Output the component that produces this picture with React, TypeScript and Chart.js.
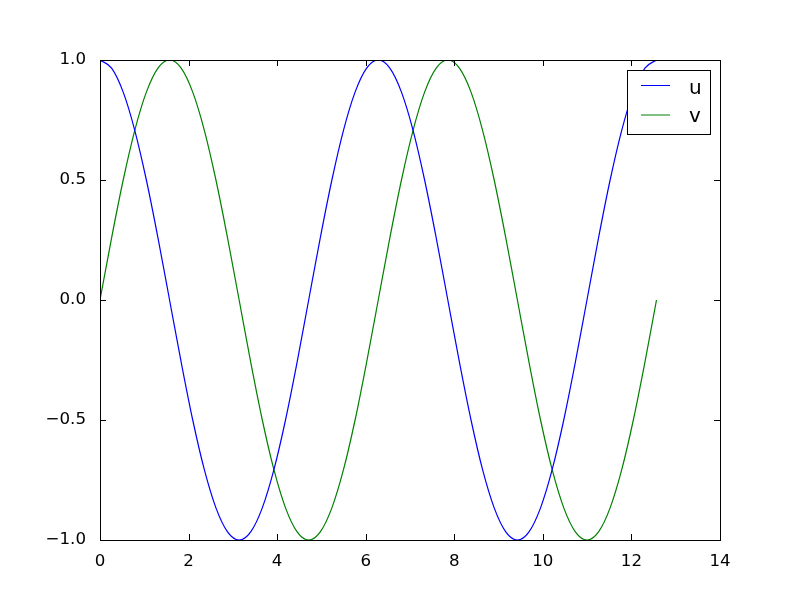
import React, { useEffect, useRef } from "react";
import { Chart, registerables } from "chart.js";

Chart.register(...registerables);

const tValues = [
  0, 0.262, 0.524, 0.785, 1.047, 1.309, 1.571, 1.833, 2.094, 2.356, 2.618, 2.88, 3.142,
  3.403, 3.665, 3.927, 4.189, 4.451, 4.712, 4.974, 5.236, 5.498, 5.76, 6.021, 6.283,
  6.545, 6.807, 7.069, 7.33, 7.592, 7.854, 8.116, 8.378, 8.639, 8.901, 9.163, 9.425,
  9.687, 9.948, 10.21, 10.472, 10.734, 10.996, 11.257, 11.519, 11.781, 12.043, 12.305, 12.566,
];

const uValues = [
  1, 0.966, 0.866, 0.707, 0.5, 0.259, 0, -0.259, -0.5, -0.707, -0.866, -0.966, -1,
  -0.966, -0.866, -0.707, -0.5, -0.259, 0, 0.259, 0.5, 0.707, 0.866, 0.966, 1,
  0.966, 0.866, 0.707, 0.5, 0.259, 0, -0.259, -0.5, -0.707, -0.866, -0.966, -1,
  -0.966, -0.866, -0.707, -0.5, -0.259, 0, 0.259, 0.5, 0.707, 0.866, 0.966, 1,
];

const vValues = [
  0, 0.259, 0.5, 0.707, 0.866, 0.966, 1, 0.966, 0.866, 0.707, 0.5, 0.259, 0,
  -0.259, -0.5, -0.707, -0.866, -0.966, -1, -0.966, -0.866, -0.707, -0.5, -0.259, 0,
  0.259, 0.5, 0.707, 0.866, 0.966, 1, 0.966, 0.866, 0.707, 0.5, 0.259, 0,
  -0.259, -0.5, -0.707, -0.866, -0.966, -1, -0.966, -0.866, -0.707, -0.5, -0.259, 0,
];

const seriesNames = ["u", "v"];
const seriesColors = ["#0000ff", "#008000"];
const xTicks = [0, 2, 4, 6, 8, 10, 12, 14];
const yTicks = [-1, -0.5, 0, 0.5, 1];

const FONT = "DejaVu Sans";

const framePlugin = {
  id: "mplFrame",
  afterDatasetsDraw(chart: any) {
    const { ctx, chartArea, scales } = chart;
    const { left, right, top, bottom } = chartArea;
    ctx.save();
    ctx.strokeStyle = "#000";
    ctx.lineWidth = 1;
    // frame
    ctx.strokeRect(Math.round(left) + 0.5, Math.round(top) + 0.5, Math.round(right - left), Math.round(bottom - top));
    // inward ticks
    const tl = 6;
    ctx.beginPath();
    xTicks.forEach((v) => {
      const x = Math.round(scales.x.getPixelForValue(v)) + 0.5;
      ctx.moveTo(x, bottom);
      ctx.lineTo(x, bottom - tl);
      ctx.moveTo(x, top);
      ctx.lineTo(x, top + tl);
    });
    yTicks.forEach((v) => {
      const y = Math.round(scales.y.getPixelForValue(v)) + 0.5;
      ctx.moveTo(left, y);
      ctx.lineTo(left + tl, y);
      ctx.moveTo(right, y);
      ctx.lineTo(right - tl, y);
    });
    ctx.stroke();

    // legend
    const bx = 627.5, by = 70.5, bw = 83, bh = 64;
    ctx.fillStyle = "#fff";
    ctx.fillRect(bx, by, bw, bh);
    ctx.strokeRect(bx, by, bw, bh);
    ctx.font = `20px "${FONT}"`;
    ctx.textBaseline = "alphabetic";
    ctx.textAlign = "left";
    seriesNames.forEach((name, i) => {
      const y = 85.5 + i * 29.5;
      ctx.strokeStyle = seriesColors[i];
      ctx.beginPath();
      ctx.moveTo(641, y);
      ctx.lineTo(670, y);
      ctx.stroke();
      ctx.fillStyle = "#000";
      ctx.fillText(name, 689, i === 0 ? 93.5 : 122);
    });
    ctx.restore();
  },
};

export default function App() {
  const ref = useRef<HTMLCanvasElement | null>(null);
  useEffect(() => {
    if (!ref.current) return;
    const makeData = (ys: number[]) => tValues.map((t, i) => ({ x: t, y: ys[i] }));
    const chart = new Chart(ref.current, {
      type: "line",
      data: {
        datasets: [
          {
            label: seriesNames[0],
            data: makeData(uValues),
            borderColor: seriesColors[0],
            borderWidth: 1.2,
            pointRadius: 0,
            cubicInterpolationMode: "monotone",
            fill: false,
          },
          {
            label: seriesNames[1],
            data: makeData(vValues),
            borderColor: seriesColors[1],
            borderWidth: 1.2,
            pointRadius: 0,
            cubicInterpolationMode: "monotone",
            fill: false,
          },
        ],
      },
      options: {
        responsive: false,
        animation: false,
        layout: { padding: { left: 0, top: 60, right: 80, bottom: 0 } },
        plugins: { legend: { display: false }, tooltip: { enabled: false } },
        scales: {
          x: {
            type: "linear",
            min: 0,
            max: 14,
            grid: { display: false },
            border: { display: false },
            afterFit: (s: any) => { s.height = 60; },
            afterBuildTicks: (s: any) => { s.ticks = xTicks.map((v) => ({ value: v })); },
            ticks: {
              padding: 4,
              color: "#000",
              font: { family: FONT, size: 16.67 },
              maxRotation: 0,
              callback: (v: any) => String(v),
            },
          },
          y: {
            type: "linear",
            min: -1,
            max: 1,
            grid: { display: false },
            border: { display: false },
            afterFit: (s: any) => { s.width = 100; },
            afterBuildTicks: (s: any) => { s.ticks = yTicks.map((v) => ({ value: v })); },
            ticks: {
              padding: 6,
              color: "#000",
              font: { family: FONT, size: 16.67 },
              callback: (v: any) => Number(v).toFixed(1).replace("-", "\u2212"),
            },
          },
        },
      },
      plugins: [framePlugin],
    });
    return () => chart.destroy();
  }, []);
  return (
    <div style={{ position: "absolute", left: 0, top: 0, width: 800, height: 600, background: "#fff" }}>
      <canvas ref={ref} width={800} height={600} style={{ display: "block" }} />
    </div>
  );
}
